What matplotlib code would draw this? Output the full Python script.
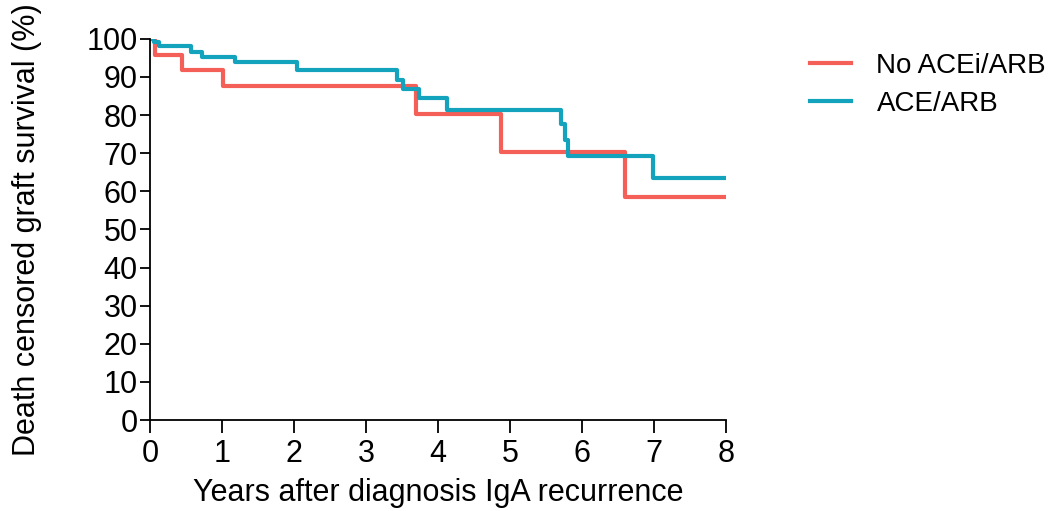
import numpy as np
import matplotlib.pyplot as plt

plt.rcParams['font.family'] = ['Liberation Sans', 'DejaVu Sans']

# Kaplan-Meier step data (years, survival %)
no_acei_t = [0, 0.07, 0.45, 1.02, 3.69, 4.88, 6.60, 8.0]
no_acei_s = [100, 95.8, 91.7, 87.5, 80.2, 70.2, 58.4, 58.4]

ace_arb_t = [0, 0.05, 0.13, 0.57, 0.72, 1.18, 2.04, 3.43, 3.51, 3.74,
             4.13, 5.71, 5.76, 5.80, 6.99, 8.0]
ace_arb_s = [100, 99.1, 98.2, 96.5, 95.2, 93.9, 91.7, 89.3, 86.9, 84.6,
             81.4, 77.6, 73.5, 69.3, 63.4, 63.4]

labels = ['No ACEi/ARB', 'ACE/ARB']
colors = ['#F45F57', '#14A3BD']

fig = plt.figure(figsize=(10.49, 5.11), dpi=100)
ax = fig.add_axes([0.143, 0.178, 0.549, 0.746])

ax.step(no_acei_t, no_acei_s, where='post', color=colors[0], lw=3, label=labels[0])
ax.step(ace_arb_t, ace_arb_s, where='post', color=colors[1], lw=3, label=labels[1])

ax.set_xlim(0, 8)
ax.set_ylim(0, 100)
ax.set_xticks(range(0, 9))
ax.set_yticks(range(0, 101, 10))
ax.spines['top'].set_visible(False)
ax.spines['right'].set_visible(False)
for s in ['left', 'bottom']:
    ax.spines[s].set_linewidth(1.3)
ax.tick_params(direction='out', length=7, width=1.3, labelsize=22)
ax.tick_params(axis='y', pad=2)
ax.tick_params(axis='x', length=9, pad=5)

ax.set_xlabel('Years after diagnosis IgA recurrence', fontsize=22, labelpad=6)
ax.set_ylabel('Death censored graft survival (%)', fontsize=22, labelpad=32)

ax.legend(loc='upper left', bbox_to_anchor=(0.772, 0.897), bbox_transform=fig.transFigure,
          frameon=False, fontsize=20, handlelength=1.5, handletextpad=0.9,
          labelspacing=0.45, borderpad=0, borderaxespad=0)

fig.savefig('out.png', dpi=100)
